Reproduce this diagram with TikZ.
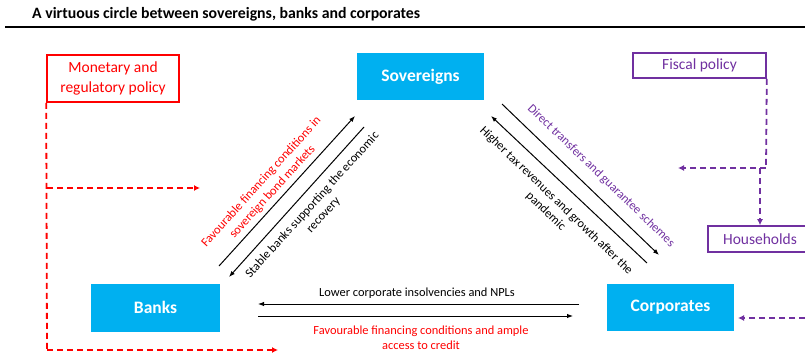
\documentclass[tikz,border=0pt]{standalone}
\usepackage{fontspec}
\setmainfont{Carlito}
\usetikzlibrary{arrows.meta}
\definecolor{actcyan}{HTML}{00B0F0}
\definecolor{polred}{HTML}{FF0000}
\definecolor{fispurple}{HTML}{7030A0}
\begin{document}
\begin{tikzpicture}[x=1pt,y=-1pt,
  actor/.style={fill=actcyan, text=white, font=\fontsize{17.5}{20}\selectfont\bfseries, inner sep=0pt},
  redbox/.style={draw=polred, line width=1.6pt, text=polred, align=center, inner sep=0pt, font=\fontsize{15.5}{20}\selectfont},
  purbox/.style={draw=fispurple, line width=1.6pt, text=fispurple, inner sep=0pt, font=\fontsize{15.5}{18}\selectfont},
  flow/.style={line width=1pt, -{Latex[length=6pt,width=4.5pt]}},
  lbl/.style={align=center, inner sep=0pt, font=\fontsize{12.4}{15}\selectfont},
  reddash/.style={draw=polred, line width=1.8pt, dash pattern=on 6pt off 4pt},
  purdash/.style={draw=fispurple, line width=1.8pt, dash pattern=on 6pt off 4pt},
  redtip/.style={-{Latex[length=6pt,width=6pt]}},
]
\useasboundingbox (0,0) rectangle (805,353);

% title
\node[anchor=west, inner sep=0pt, font=\fontsize{15.8}{18}\selectfont\bfseries] (title) at (32,14) {A virtuous circle between sovereigns, banks and corporates};
\coordinate (rulel) at (5,27);
\coordinate (ruler) at (805,27);
\draw[line width=2pt] (rulel) -- (ruler);

% actors
\node[actor, minimum width=127pt, minimum height=47pt] (sov) at (420.5,76.5) {Sovereigns};
\node[actor, minimum width=129pt, minimum height=48pt] (bank) at (155.5,307.5) {Banks};
\node[actor, minimum width=127pt, minimum height=47pt] (corp) at (670.5,307.5) {Corporates};

% policy boxes
\node[redbox, minimum width=132pt, minimum height=47pt] (mon) at (113,78.5) {Monetary and\\regulatory policy};
\node[purbox, minimum width=133pt, minimum height=25pt] (fis) at (699.5,65.5) {Fiscal policy};
\node[purbox, minimum width=104pt, minimum height=26pt] (hh) at (760,239) {Households};

% diagonal arrows left
\coordinate (l1a) at (219,266);
\coordinate (l1b) at (355,116);
\coordinate (l2a) at (364,127);
\coordinate (l2b) at (229,277);
\draw[flow] (l1a) -- (l1b);
\draw[flow] (l2a) -- (l2b);
\node[lbl, text=polred, rotate=47.8] (lblfav) at (267,187) {Favourable financing conditions in\\sovereign bond markets};
\node[lbl, rotate=47.8] (lblstab) at (318,210) {Stable banks supporting the economic\\recovery};

% diagonal arrows right
\coordinate (r1a) at (502,104);
\coordinate (r1b) at (659,255);
\coordinate (r2a) at (647,263);
\coordinate (r2b) at (491,116);
\draw[flow] (r1a) -- (r1b);
\draw[flow] (r2a) -- (r2b);
\node[lbl, text=fispurple, rotate=-44] (lbldir) at (601,176) {Direct transfers and guarantee schemes};
\node[lbl, rotate=-44] (lbltax) at (551,206) {Higher tax revenues and growth after the\\pandemic};

% bottom arrows
\coordinate (b1a) at (579,304);
\coordinate (b1b) at (258,304);
\coordinate (b2a) at (258,316);
\coordinate (b2b) at (573,316);
\draw[flow] (b1a) -- (b1b);
\draw[flow] (b2a) -- (b2b);
\node[lbl] (lbllow) at (417,293) {Lower corporate insolvencies and NPLs};
\node[lbl, text=polred] (lblcred) at (421,338) {Favourable financing conditions and ample\\access to credit};

% monetary policy dashed links
\coordinate (mmid) at (47,188);
\coordinate (mmidend) at (200,188);
\coordinate (mbot) at (47,350);
\coordinate (mbotend) at (278,350);
\draw[reddash] (mon.south west) -- (mbot);
\draw[reddash, redtip] (mbot) -- (mbotend);
\draw[reddash, redtip] (mmid) -- (mmidend);

% fiscal policy dashed links
\coordinate (fcorner) at (766,168);
\coordinate (fend) at (678,168);
\coordinate (hstart) at (760,168);
\draw[purdash] (fis.south east) -- (fcorner);
\draw[purdash, line width=1.5pt, redtip] (fcorner) -- (fend);
\draw[purdash, line width=1.5pt, redtip] (hstart) -- (hh.north);
\coordinate (cout) at (805,318);
\coordinate (cin) at (738,318);
\draw[purdash, line width=1.5pt, redtip] (cout) -- (cin);
\end{tikzpicture}
\end{document}
